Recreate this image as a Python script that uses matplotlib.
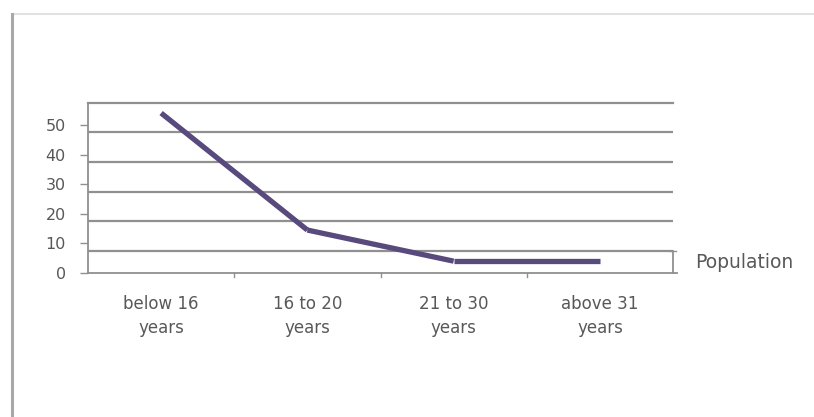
import matplotlib
matplotlib.use("Agg")
import matplotlib.pyplot as plt
import numpy as np

# age groups and head count per group
age_groups = ["below 16\nyears", "16 to 20\nyears", "21 to 30\nyears", "above 31\nyears"]
population = [54, 14.5, 4, 4]
y_ticks = [0, 10, 20, 30, 40, 50]
band_lines = [7.5, 17.5, 27.5, 37.5, 47.5]

lineColor = "#584a7c"
axisGray = "#909090"
textGray = "#585858"

plt.rcParams['font.family'] = ['DejaVu Sans']

fig = plt.figure(figsize=(8.14, 4.17), dpi=100)
fig.patch.set_facecolor("white")

# outer frame: thin top rule and a heavier left rule
fig.add_artist(plt.Line2D([11.5 / 814, 1.0], [1 - 14 / 417] * 2, color="#dcdcdc", lw=1.2))
fig.add_artist(plt.Line2D([12 / 814] * 2, [0, 1 - 14 / 417], color="#a8a8a8", lw=2.2))

ax = fig.add_axes([88 / 814, 1 - 273 / 417, (673 - 88) / 814, (273 - 102.7) / 417])
ax.set_xlim(-0.5, len(age_groups) - 0.5)
ax.set_ylim(0, 57.5)

for s in ["right", "bottom"]:
    ax.spines[s].set_visible(False)
ax.spines["left"].set_color(axisGray)
ax.spines["left"].set_linewidth(1.3)
ax.spines["top"].set_color(axisGray)
ax.spines["top"].set_linewidth(1.6)

for yv in band_lines:
    ax.axhline(yv, color=axisGray, lw=1.6, zorder=1)
# base axis runs a bit past the right edge
ax.plot([-0.5, len(age_groups) - 0.5 + 0.03], [0, 0], color=axisGray, lw=1.3,
        clip_on=False, zorder=1)
# right end cap on the lowest band
ax.plot([len(age_groups) - 0.5] * 2, [0, band_lines[0]], color=axisGray, lw=1.3,
        clip_on=False, zorder=1)
ax.plot([len(age_groups) - 0.5 - 0.02, len(age_groups) - 0.5 + 0.02],
        [band_lines[0]] * 2, color=axisGray, lw=1.0, clip_on=False)

# y ticks at round numbers
ax.set_yticks(y_ticks)
ax.set_yticklabels([str(v) for v in y_ticks], fontsize=11.5, color=textGray)
ax.tick_params(axis="y", direction="out", length=6, width=1.0, color=axisGray, pad=10)

# x labels centered on categories, tick marks between them
xs = np.arange(len(age_groups))
ax.set_xticks(xs)
ax.set_xticklabels(age_groups, fontsize=12, color=textGray, linespacing=1.4)
ax.tick_params(axis="x", length=0, pad=16)
for b in np.arange(0.5, len(age_groups) - 0.5, 1.0):
    ax.plot([b, b], [0, -1.2], color=axisGray, lw=1.0, clip_on=False)

# each segment drawn separately so the joints show small breaks
for i in range(len(population) - 1):
    ax.plot([xs[i], xs[i + 1]], [population[i], population[i + 1]],
            color=lineColor, lw=3.8, solid_capstyle="butt", zorder=3)

fig.text(695 / 814, 1 - 263 / 417, "Population", fontsize=13.5, color=textGray,
         va="center", ha="left")

fig.savefig("out.png", dpi=100, facecolor="white")
